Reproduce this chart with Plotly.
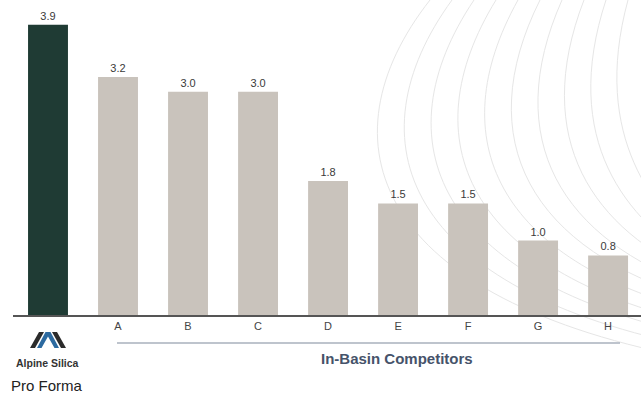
import plotly.graph_objects as go

categories = ["Pro Forma", "A", "B", "C", "D", "E", "F", "G", "H"]
values = [3.9, 3.2, 3.0, 3.0, 1.8, 1.5, 1.5, 1.0, 0.8]
tick_labels = ["", "A", "B", "C", "D", "E", "F", "G", "H"]
group_label = "In-Basin Competitors"
company_name = "Alpine Silica"
pro_forma_label = "Pro Forma"

W, H = 641, 394
L, R, T, B = 13, 0, 0, 79
PW, PH = W - L - R, H - T - B

def px(x):
    return (x - L) / PW

def py(y):
    return (H - B - y) / PH

colors = ["#1f3b34"] + ["#c9c3bc"] * (len(values) - 1)

fig = go.Figure()
fig.add_trace(go.Bar(
    x=list(range(len(categories))), y=values,
    marker=dict(color=colors, line=dict(width=0)),
    width=0.57,
    text=[f"{v:.1f}" for v in values],
    textposition="outside",
    textfont=dict(size=11, color="#3a3a3a", family="Liberation Sans, Arial"),
    cliponaxis=False,
    hoverinfo="skip",
))

shapes = []
# decorative background curves
for i in range(12):
    x0 = 430 + 22 * i
    shapes.append(dict(
        type="path", xref="paper", yref="paper", layer="below",
        path=(f"M {px(x0)},{py(0)} C {px(x0 - 110 + 8*i)},{py(140)} "
              f"{px(x0 - 60 + 10*i)},{py(300 - 10*i)} {px(700)},{py(360 - 12*i)}"),
        line=dict(color="#e6e6e6", width=1),
    ))
# group underline
shapes.append(dict(type="line", xref="paper", yref="paper",
                   x0=px(117), x1=px(620), y0=py(343), y1=py(343),
                   line=dict(color="#a9b1bd", width=1.5)))
# logo strokes
shapes.append(dict(type="path", xref="paper", yref="paper",
                   path=f"M {px(30)},{py(348)} L {px(39)},{py(332)} L {px(44)},{py(332)} L {px(35)},{py(348)} Z",
                   fillcolor="#2b2b2b", line=dict(width=0)))
shapes.append(dict(type="path", xref="paper", yref="paper",
                   path=(f"M {px(37)},{py(348)} L {px(45.5)},{py(332)} L {px(50.5)},{py(332)} L {px(59)},{py(348)} "
                         f"L {px(54.5)},{py(348)} L {px(48)},{py(336.5)} L {px(41.5)},{py(348)} Z"),
                   fillcolor="#2c6aa0", line=dict(width=0)))
shapes.append(dict(type="path", xref="paper", yref="paper",
                   path=f"M {px(52)},{py(332)} L {px(57)},{py(332)} L {px(66)},{py(348)} L {px(61)},{py(348)} Z",
                   fillcolor="#2b2b2b", line=dict(width=0)))

annotations = [
    dict(x=px(397), y=py(358), xref="paper", yref="paper", text=f"<b>{group_label}</b>",
         xanchor="center", yanchor="middle",
         showarrow=False, font=dict(size=15, color="#46536a", family="Liberation Sans, Arial")),
    dict(x=px(47), y=py(363), xref="paper", yref="paper", text=f"<b>{company_name}</b>",
         xanchor="center", yanchor="middle",
         showarrow=False, font=dict(size=10.5, color="#333333", family="Liberation Sans, Arial")),
    dict(x=px(47), y=py(385), xref="paper", yref="paper", text=pro_forma_label,
         xanchor="center", yanchor="middle",
         showarrow=False, font=dict(size=15, color="#222222", family="Liberation Sans, Arial")),
]

fig.update_layout(
    width=W, height=H,
    margin=dict(l=L, r=R, t=T, b=B),
    paper_bgcolor="white", plot_bgcolor="rgba(0,0,0,0)",
    showlegend=False,
    shapes=shapes, annotations=annotations,
    xaxis=dict(
        range=[-0.5, len(categories) - 0.5 - 0.03],
        tickvals=list(range(len(categories))), ticktext=tick_labels,
        showline=True, linecolor="#555555", linewidth=2,
        showgrid=False, zeroline=False, ticks="",
        tickfont=dict(size=11, color="#444444", family="Liberation Sans, Arial"),
        fixedrange=True,
    ),
    yaxis=dict(range=[0, PH / 74.4], visible=False, showgrid=False, zeroline=False, fixedrange=True),
)

fig.write_html("out.html")
